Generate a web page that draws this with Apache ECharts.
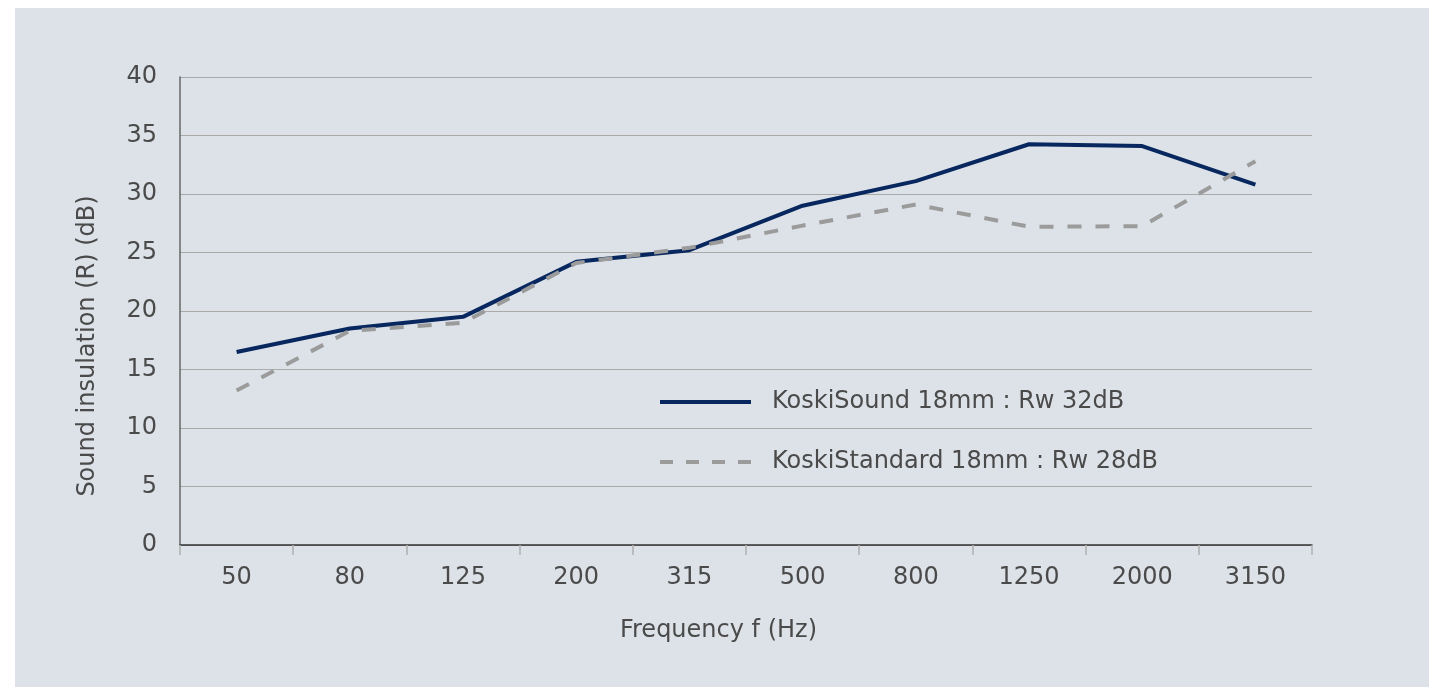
<!DOCTYPE html>
<html>
<head>
<meta charset="utf-8">
<script src="https://cdn.jsdelivr.net/npm/echarts@6/dist/echarts.min.js"></script>
<style>
html,body{margin:0;padding:0;background:#ffffff;width:1429px;height:687px;overflow:hidden;}
#panel{position:absolute;left:15px;top:8px;width:1414px;height:679px;background:#dce2e8;}
#chart{width:1414px;height:679px;}
</style>
</head>
<body>
<div id="panel"><div id="chart"></div></div>
<script>
var frequencies = ['50','80','125','200','315','500','800','1250','2000','3150'];
var koskiSound = [16.5, 18.5, 19.5, 24.2, 25.2, 29.0, 31.1, 34.25, 34.1, 30.8];
var koskiStandard = [13.2, 18.3, 19.0, 24.1, 25.4, 27.3, 29.1, 27.2, 27.25, 32.8];
var seriesNames = ['KoskiSound 18mm : Rw 32dB', 'KoskiStandard 18mm : Rw 28dB'];
var yTitle = 'Sound insulation (R) (dB)';
var xTitle = 'Frequency f (Hz)';

var FONT = 'DejaVu Sans';
var FS = 24;
var TXT = '#4a4a4a';
var NAVY = '#07275e';
var GREY = '#9b9b9b';
var chart = echarts.init(document.getElementById('chart'), null, {renderer:'canvas'});
chart.setOption({
  animation: false,
  backgroundColor: 'transparent',
  textStyle: {fontFamily: FONT},
  grid: {left: 165, top: 69, right: 117, bottom: 142, containLabel: false},
  legend: {
    orient: 'vertical',
    left: 643, top: 382, padding: 0,
    itemWidth: 91, itemHeight: 20, itemGap: 36,
    itemStyle: {color: 'transparent', borderColor: 'transparent', borderWidth: 0},
    textStyle: {fontFamily: FONT, fontSize: FS, color: TXT, padding: [0,0,0,16]},
    data: [
      {name: seriesNames[0], lineStyle: {color: NAVY, width: 4, type: 'solid'}},
      {name: seriesNames[1], lineStyle: {color: GREY, width: 4, type: [13, 13]}}
    ]
  },
  xAxis: {
    type: 'category',
    data: frequencies,
    boundaryGap: true,
    name: xTitle,
    nameLocation: 'middle',
    nameGap: 74,
    nameTextStyle: {fontFamily: FONT, fontSize: FS, color: TXT, padding: [0, 55, 0, 0]},
    axisLine: {show: true, lineStyle: {color: '#333333', width: 1.5}},
    axisTick: {show: true, alignWithLabel: false, length: 10, lineStyle: {color: '#b0b0b0', width: 1.5}},
    axisLabel: {fontFamily: FONT, fontSize: FS, color: TXT, margin: 21},
    splitLine: {show: false}
  },
  yAxis: {
    type: 'value',
    min: 0, max: 40, interval: 5,
    name: yTitle,
    nameLocation: 'middle',
    nameGap: 80,
    nameTextStyle: {fontFamily: FONT, fontSize: FS, color: TXT, padding: [0, 70, 0, 0]},
    axisLine: {show: true, lineStyle: {color: '#666666', width: 1.5}},
    axisTick: {show: false},
    axisLabel: {fontFamily: FONT, fontSize: FS, color: TXT, margin: 23, padding: [3, 0, 0, 0]},
    splitLine: {show: true, lineStyle: {color: '#a9a9a9', width: 1}}
  },
  series: [
    {
      name: seriesNames[0], type: 'line', data: koskiSound,
      symbol: 'none', showSymbol: false,
      lineStyle: {color: NAVY, width: 4, cap: 'butt'},
      itemStyle: {color: NAVY}
    },
    {
      name: seriesNames[1], type: 'line', data: koskiStandard,
      symbol: 'none', showSymbol: false,
      lineStyle: {color: GREY, width: 4, type: [14, 14], cap: 'butt'},
      itemStyle: {color: GREY}
    }
  ]
});
</script>
</body>
</html>
